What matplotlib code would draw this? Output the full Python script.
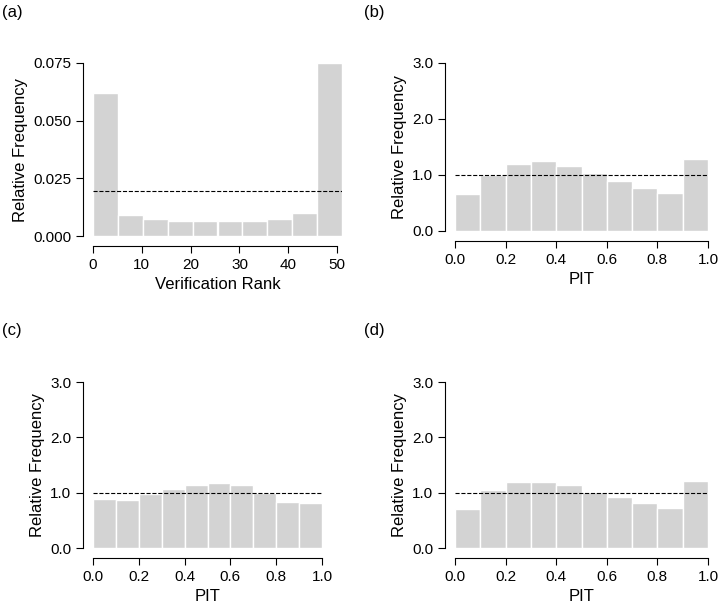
import matplotlib
matplotlib.use("Agg")
import matplotlib.pyplot as plt
import numpy as np

rank_edges = np.arange(0, 52, 5.1)
rank_freq = [0.062, 0.0100, 0.0078, 0.0069, 0.0065, 0.0065, 0.0069, 0.0074, 0.0087, 0.0104, 0.075][:10]
rank_freq = [0.062, 0.0092, 0.0072, 0.0066, 0.0064, 0.0064, 0.0067, 0.0074, 0.0100, 0.075]
pit_edges = np.linspace(0, 1, 11)
pit_b = [0.66, 1.00, 1.20, 1.25, 1.16, 1.03, 0.90, 0.76, 0.67, 1.28]
pit_c = [0.88, 0.87, 0.98, 1.07, 1.14, 1.17, 1.13, 0.99, 0.84, 0.82]
pit_d = [0.70, 1.04, 1.19, 1.19, 1.13, 1.02, 0.92, 0.81, 0.72, 1.21]

W, H = 719, 609
fig = plt.figure(figsize=(W/100, H/100), dpi=100)
plt.rcParams['font.family'] = ['Liberation Sans', 'DejaVu Sans']

def mk(x0, x1, ytop, ybot):
    return fig.add_axes([x0/W, (H-ybot)/H, (x1-x0)/W, (ybot-ytop)/H])

def style(ax):
    for s in ['top', 'right']:
        ax.spines[s].set_visible(False)
    ax.spines['left'].set_position(('outward', 7))
    ax.spines['bottom'].set_position(('outward', 7))
    ax.tick_params(labelsize=11, direction='out', length=5)

col = '#d3d3d3'
# (a)
ax = mk(93, 342, 63, 236)
ax.bar(rank_edges[:-1], rank_freq, width=np.diff(rank_edges), align='edge', color=col, edgecolor='white', linewidth=1)
ax.axhline(1/51, color='black', ls='--', lw=0.8)
ax.set_xlim(0, 51); ax.set_ylim(0, 0.075)
ax.set_xticks([0, 10, 20, 30, 40, 50]); ax.set_yticks([0, 0.025, 0.05, 0.075])
ax.set_yticklabels(['0.000', '0.025', '0.050', '0.075'])
ax.spines['bottom'].set_bounds(0, 50)
style(ax)
ax.set_xlabel('Verification Rank', fontsize=12)
ax.set_ylabel('Relative Frequency', fontsize=12)
fig.text(2/W, 1-12/H, '(a)', fontsize=12, va='center')

for data, (x0, x1, yt, yb), lab, tx, ty in [
        (pit_b, (455, 708, 63, 231), '(b)', 364, 12),
        (pit_c, (93, 322, 382, 548), '(c)', 2, 330),
        (pit_d, (455, 708, 382, 548), '(d)', 364, 330)]:
    ax = mk(x0, x1, yt, yb)
    ax.bar(pit_edges[:-1], data, width=0.1, align='edge', color=col, edgecolor='white', linewidth=1)
    ax.axhline(1.0, color='black', ls='--', lw=0.8)
    ax.set_xlim(0, 1); ax.set_ylim(0, 3)
    ax.set_xticks(np.linspace(0, 1, 6)); ax.set_yticks([0, 1, 2, 3])
    ax.set_yticklabels(['0.0', '1.0', '2.0', '3.0'])
    ax.set_xticklabels(['0.0', '0.2', '0.4', '0.6', '0.8', '1.0'])
    style(ax)
    ax.set_xlabel('PIT', fontsize=12)
    ax.set_ylabel('Relative Frequency', fontsize=12)
    fig.text(tx/W, 1-ty/H, lab, fontsize=12, va='center')

fig.savefig('out.png', dpi=100)
